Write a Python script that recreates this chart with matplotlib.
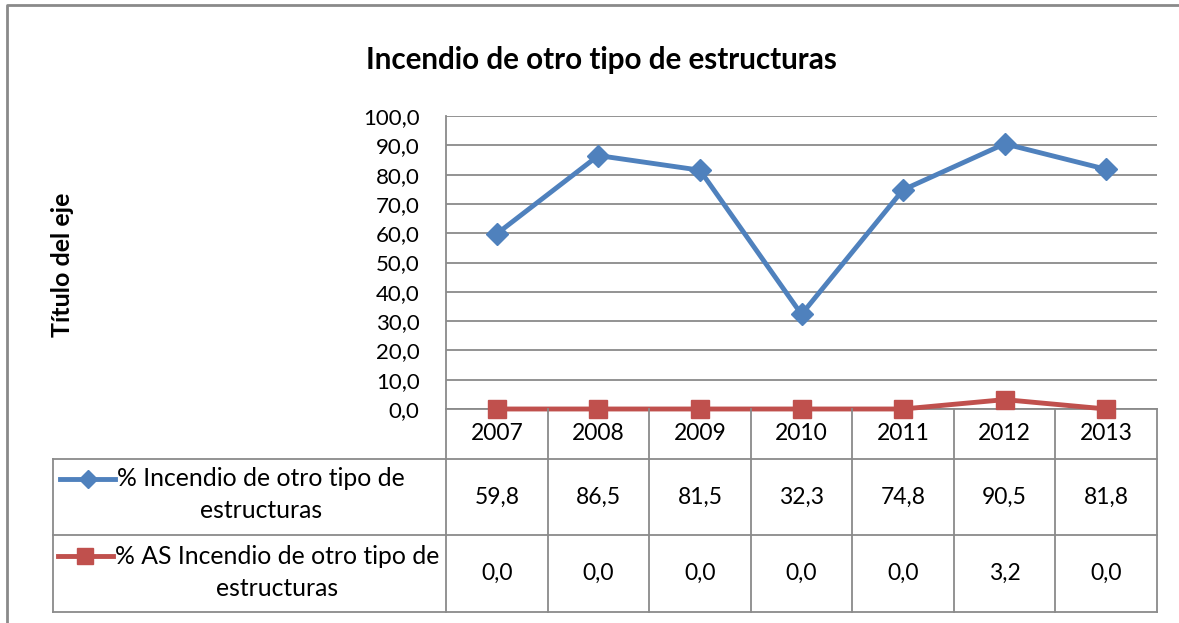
import numpy as np
import matplotlib
matplotlib.use("Agg")
import matplotlib.pyplot as plt
from matplotlib.lines import Line2D
from matplotlib.transforms import blended_transform_factory

plt.rcParams['font.family'] = ['Lato', 'DejaVu Sans']

years = ['2007', '2008', '2009', '2010', '2011', '2012', '2013']
incendio = [59.8, 86.5, 81.5, 32.3, 74.8, 90.5, 81.8]
incendio_as = [0.0, 0.0, 0.0, 0.0, 0.0, 3.2, 0.0]
series_names = [['% Incendio de otro tipo de', 'estructuras'],
                ['% AS Incendio de otro tipo de', 'estructuras']]
yticks = np.arange(0, 101, 10)

blue = '#4F81BD'
red = '#C0504D'
grey = '#8a8a8a'

W, H = 1179, 623
fig = plt.figure(figsize=(W / 100, H / 100), dpi=100)

def fx(x):
    return x / W

def fy(y):
    return 1 - y / H

def fmt(v):
    return '{:.1f}'.format(v).replace('.', ',')

ax = fig.add_axes([fx(446), fy(409), fx(1157) - fx(446), fy(116) - fy(409)])
x = np.arange(len(years))
ax.plot(x, incendio, color=blue, lw=3.5, marker='D', ms=11, clip_on=False, zorder=3)
ax.plot(x, incendio_as, color=red, lw=3.5, marker='s', ms=13, clip_on=False, zorder=3)
ax.set_xlim(-0.5, len(years) - 0.5)
ax.set_ylim(0, 100)
ax.set_yticks(yticks)
ax.set_yticklabels([fmt(v) for v in yticks], fontsize=16)
ax.set_xticks([])
ax.tick_params(axis='y', length=0, pad=19)
ax.yaxis.grid(True, color=grey, lw=1.3)
ax.set_axisbelow(True)
for s in ['top', 'right']:
    ax.spines[s].set_visible(False)
for s in ['left', 'bottom']:
    ax.spines[s].set_color(grey)
    ax.spines[s].set_linewidth(1.3)

# data table under the plot
bt = blended_transform_factory(ax.transData, fig.transFigure)
rows = [409, 459, 535, 612]
for i in range(len(years) + 1):
    fig.add_artist(Line2D([i - 0.5, i - 0.5], [fy(409), fy(612)], transform=bt, color=grey, lw=1.3))
for r in rows[1:]:
    fig.add_artist(Line2D([fx(53), fx(1157)], [fy(r), fy(r)], color=grey, lw=1.3))
fig.add_artist(Line2D([fx(53), fx(53)], [fy(459), fy(612)], color=grey, lw=1.3))

for i, yr in enumerate(years):
    fig.text(i, fy(434), yr, transform=bt, ha='center', va='center', fontsize=16.5)
    fig.text(i, fy(497), fmt(incendio[i]), transform=bt, ha='center', va='center', fontsize=16.5)
    fig.text(i, fy(573), fmt(incendio_as[i]), transform=bt, ha='center', va='center', fontsize=16.5)

legend_rows = [(series_names[0], 261, 479, 511, blue, 'D', 11),
               (series_names[1], 277, 556, 588, red, 's', 13)]
renderer = fig.canvas.get_renderer()
for name, cx, y1, y2, col, mk, ms in legend_rows:
    t1 = fig.text(fx(cx), fy(y1), name[0], ha='center', va='center', fontsize=17.8)
    fig.text(fx(cx), fy(y2), name[1], ha='center', va='center', fontsize=17.8)
    bb = t1.get_window_extent(renderer)
    x1 = bb.x0 - 2
    x0 = x1 - 55
    fig.add_artist(Line2D([x0 / W, x1 / W], [fy(y1), fy(y1)], color=col, lw=3.5))
    fig.add_artist(Line2D([(x0 + x1) / 2 / W], [fy(y1)], color=col, marker=mk, ms=ms * 0.85, lw=0))

fig.text(fx(601), fy(60), 'Incendio de otro tipo de estructuras', ha='center', va='center',
         fontsize=21.3, fontweight='bold')
fig.text(fx(62), fy(265), 'Título del eje', rotation=90, ha='center', va='center',
         fontsize=18, fontweight='bold')

# chart frame
fig.add_artist(Line2D([fx(7.5), fx(7.5), fx(1179)], [fy(623), fy(4.5), fy(4.5)], color=grey, lw=2))

fig.savefig('out.png', dpi=100)
